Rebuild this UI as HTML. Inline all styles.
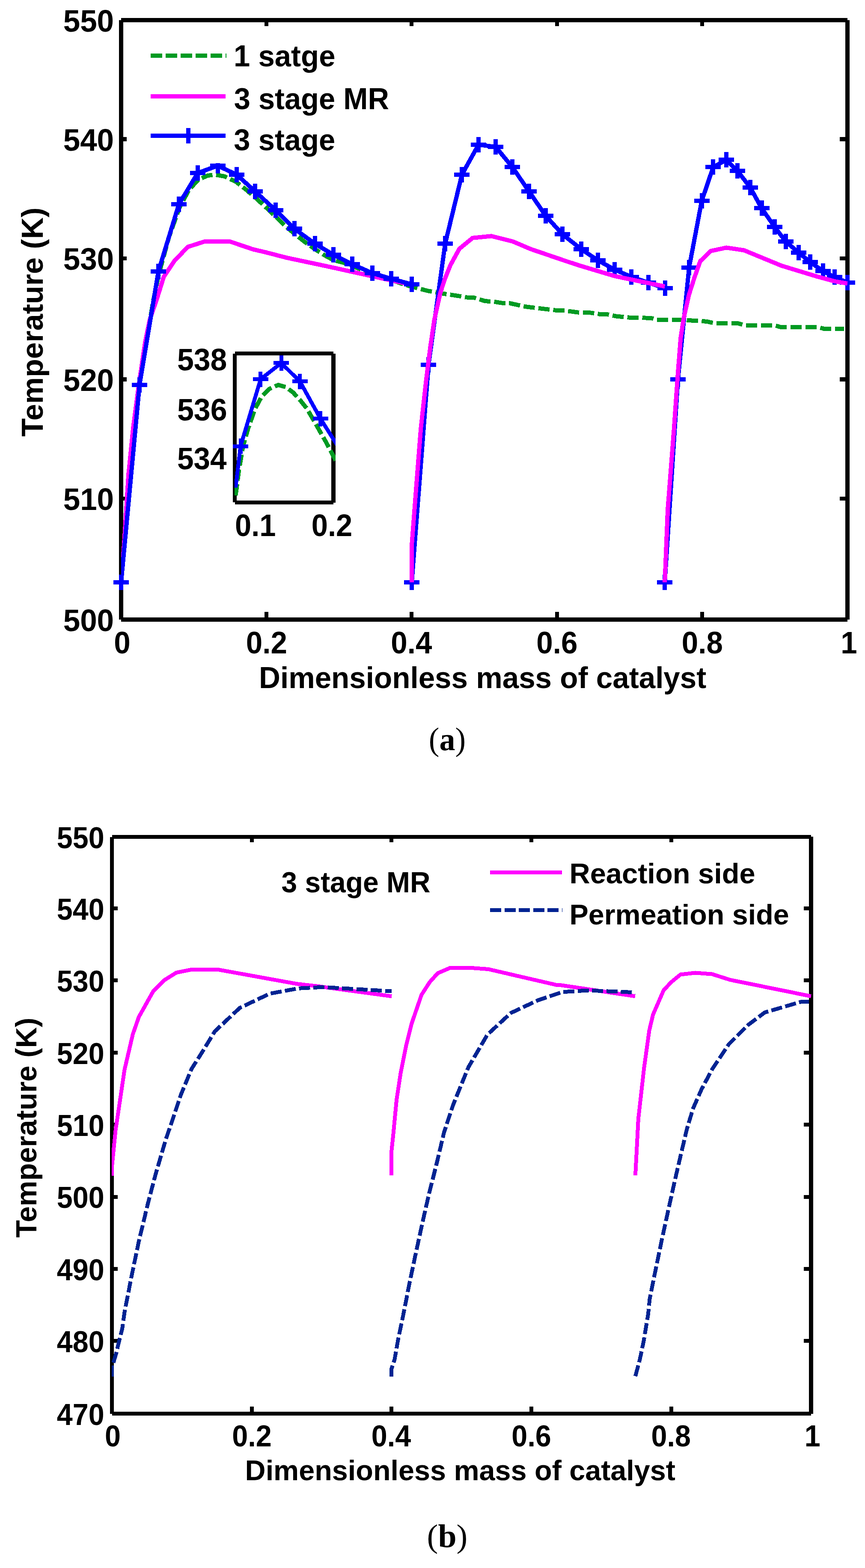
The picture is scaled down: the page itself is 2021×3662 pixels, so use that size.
<!DOCTYPE html>
<html lang="en">
<head>
<meta charset="utf-8">
<title>Temperature profiles along the dimensionless mass of catalyst</title>
<style>
html,body{margin:0;padding:0;background:#fff;}
body{width:2021px;height:3662px;}
svg{display:block;}
text{fill:#000;}
.t{font-family:'Liberation Sans', Arial, Helvetica, sans-serif;font-weight:bold;}
.c{font-family:'Liberation Serif', 'DejaVu Serif', serif;}
</style>
</head>
<body>
<svg width="2021" height="3662" viewBox="0 0 2021 3662">
<rect width="2021" height="3662" fill="#fff"/>
<g shape-rendering="crispEdges" stroke-linejoin="miter" stroke-linecap="butt">
<path d="M283 47H1980M283 1447H1980M283 47V1447M1980 47V1447" fill="none" stroke="#000" stroke-width="10"/>
<rect x="288" y="320" width="8" height="10" fill="#000"/>
<rect x="1962" y="320" width="13" height="10" fill="#000"/>
<rect x="288" y="599" width="8" height="9" fill="#000"/>
<rect x="1962" y="599" width="13" height="9" fill="#000"/>
<rect x="288" y="881" width="8" height="10" fill="#000"/>
<rect x="1962" y="881" width="13" height="10" fill="#000"/>
<rect x="288" y="1160" width="8" height="9" fill="#000"/>
<rect x="1962" y="1160" width="13" height="9" fill="#000"/>
<rect x="618" y="1429" width="9" height="13" fill="#000"/>
<rect x="618" y="52" width="9" height="9" fill="#000"/>
<rect x="957" y="1429" width="9" height="13" fill="#000"/>
<rect x="957" y="52" width="9" height="9" fill="#000"/>
<rect x="1297" y="1429" width="9" height="13" fill="#000"/>
<rect x="1297" y="52" width="9" height="9" fill="#000"/>
<rect x="1636" y="1429" width="9" height="13" fill="#000"/>
<rect x="1636" y="52" width="9" height="9" fill="#000"/>
<clipPath id="ca"><rect x="283" y="47" width="1697.5" height="1400"/></clipPath>
<g clip-path="url(#ca)"><polyline points="283.0,1360.0 326.0,899.0 347.5,764.0 358.5,700.0 371.0,641.0 395.0,553.0 419.0,486.0 441.0,444.0 463.0,420.0 485.0,410.0 503.0,408.0 525.0,412.0 552.0,425.0 575.0,443.0 597.0,462.0 620.0,483.0 644.0,506.0 666.0,527.0 688.0,546.0 712.0,565.0 736.0,582.0 758.0,596.0 780.0,608.0 801.0,613.0 823.0,621.0 847.0,631.0 871.0,640.5 893.0,647.5 915.0,654.0 940.0,663.0 962.0,669.5 1000.0,679.4 1035.0,685.7 1070.0,691.0 1091.0,694.5 1105.0,694.5 1133.6,703.3 1150.0,704.0 1172.0,707.5 1190.0,708.0 1228.5,716.3 1267.0,720.9 1302.0,725.1 1320.0,725.5 1351.6,729.7 1380.0,730.5 1404.0,734.2 1420.0,734.5 1439.5,738.5 1474.7,742.0 1521.0,742.7 1533.4,746.5 1600.0,747.5 1651.0,750.8 1672.0,755.3 1725.0,755.3 1739.0,759.5 1809.0,759.5 1823.5,763.8 1911.0,763.8 1927.0,768.3 1972.0,768.3" fill="none" stroke="#009A22" stroke-width="10" stroke-dasharray="26.4 8.48"/><polyline points="283.0,1360.0 290.0,1270.0 300.0,1110.0 311.0,1000.0 324.2,900.0 339.0,800.0 350.0,746.0 366.0,700.0 382.5,647.0 407.8,609.0 438.8,576.6 478.2,564.0 537.2,564.0 590.7,582.2 620.0,589.0 670.0,602.0 760.0,621.0 845.0,639.7 915.0,655.0 962.0,665.0" fill="none" stroke="#FF00FF" stroke-width="10"/></g>
<g clip-path="url(#ca)"><polyline points="283.0,1360.0 326.0,899.0 370.0,634.0 418.0,477.0 462.0,404.0 509.0,387.0 553.0,408.0 596.0,447.0 644.0,491.0 687.5,534.0 735.6,569.0 779.0,595.0 822.5,617.0 870.4,638.0 914.0,651.0 962.0,664.0" fill="none" stroke="#0000FF" stroke-width="10"/></g>
<path d="M265.0 1360.0h36M283.0 1342.0v36M308.0 899.0h36M326.0 881.0v36M352.0 634.0h36M370.0 616.0v36M400.0 477.0h36M418.0 459.0v36M444.0 404.0h36M462.0 386.0v36M491.0 387.0h36M509.0 369.0v36M535.0 408.0h36M553.0 390.0v36M578.0 447.0h36M596.0 429.0v36M626.0 491.0h36M644.0 473.0v36M669.5 534.0h36M687.5 516.0v36M717.6 569.0h36M735.6 551.0v36M761.0 595.0h36M779.0 577.0v36M804.5 617.0h36M822.5 599.0v36M852.4 638.0h36M870.4 620.0v36M896.0 651.0h36M914.0 633.0v36M944.0 664.0h36M962.0 646.0v36" fill="none" stroke="#0000FF" stroke-width="10"/>
<g clip-path="url(#ca)"><polyline points="962.0,1360.0 1001.3,851.5 1040.1,569.0 1079.2,408.0 1118.0,338.0 1158.0,343.0 1197.0,390.0 1236.0,447.0 1275.0,504.0 1314.0,547.0 1358.0,582.0 1397.0,608.0 1436.0,629.6 1475.2,646.7 1514.5,660.0 1553.5,673.0" fill="none" stroke="#0000FF" stroke-width="10"/></g>
<path d="M944.0 1360.0h36M962.0 1342.0v36M983.3 851.5h36M1001.3 833.5v36M1022.1 569.0h36M1040.1 551.0v36M1061.2 408.0h36M1079.2 390.0v36M1100.0 338.0h36M1118.0 320.0v36M1140.0 343.0h36M1158.0 325.0v36M1179.0 390.0h36M1197.0 372.0v36M1218.0 447.0h36M1236.0 429.0v36M1257.0 504.0h36M1275.0 486.0v36M1296.0 547.0h36M1314.0 529.0v36M1340.0 582.0h36M1358.0 564.0v36M1379.0 608.0h36M1397.0 590.0v36M1418.0 629.6h36M1436.0 611.6v36M1457.2 646.7h36M1475.2 628.7v36M1496.5 660.0h36M1514.5 642.0v36M1535.5 673.0h36M1553.5 655.0v36" fill="none" stroke="#0000FF" stroke-width="10"/>
<g clip-path="url(#ca)"><polyline points="1553.2,1360.0 1584.0,886.0 1610.0,625.0 1639.5,469.4 1666.3,390.3 1697.0,373.4 1723.0,399.0 1753.0,438.0 1779.5,486.3 1810.0,530.0 1836.0,564.4 1866.3,590.0 1892.7,612.0 1923.0,633.0 1949.7,647.0 1980.0,660.0" fill="none" stroke="#0000FF" stroke-width="10"/></g>
<path d="M1535.2 1360.0h36M1553.2 1342.0v36M1566.0 886.0h36M1584.0 868.0v36M1592.0 625.0h36M1610.0 607.0v36M1621.5 469.4h36M1639.5 451.4v36M1648.3 390.3h36M1666.3 372.3v36M1679.0 373.4h36M1697.0 355.4v36M1705.0 399.0h36M1723.0 381.0v36M1735.0 438.0h36M1753.0 420.0v36M1761.5 486.3h36M1779.5 468.3v36M1792.0 530.0h36M1810.0 512.0v36M1818.0 564.4h36M1836.0 546.4v36M1848.3 590.0h36M1866.3 572.0v36M1874.7 612.0h36M1892.7 594.0v36M1905.0 633.0h36M1923.0 615.0v36M1931.7 647.0h36M1949.7 629.0v36M1962.0 660.0h36M1980.0 642.0v36" fill="none" stroke="#0000FF" stroke-width="10"/>
<g clip-path="url(#ca)"><polyline points="962.0,1360.0 962.0,1274.0 971.7,1147.7 983.3,1000.0 994.8,895.4 1005.3,811.0 1014.6,747.7 1028.7,684.4 1039.0,652.7 1052.5,619.0 1073.3,581.0 1104.2,555.7 1147.8,551.4 1198.5,564.1 1240.0,581.7 1320.0,609.0 1352.5,619.7 1436.9,645.0 1553.4,669.0" fill="none" stroke="#FF00FF" stroke-width="10"/><polyline points="1553.2,1360.0 1560.1,1190.0 1574.8,1000.0 1582.8,885.9 1590.2,789.9 1597.3,743.5 1609.7,688.6 1622.4,648.5 1636.0,610.0 1660.7,586.2 1697.0,578.4 1738.0,584.4 1826.0,620.6 1907.0,645.2 1950.0,657.0 1980.0,662.0" fill="none" stroke="#FF00FF" stroke-width="10"/></g>
<rect x="330" y="70" width="600" height="311" fill="#fff"/>
<polyline points="352.0,130.0 529.0,130.0" fill="none" stroke="#009A22" stroke-width="10" stroke-dasharray="26.5 8.5"/>
<polyline points="352.0,225.0 527.0,225.0" fill="none" stroke="#FF00FF" stroke-width="10"/>
<polyline points="352.0,317.0 527.0,317.0" fill="none" stroke="#0000FF" stroke-width="10"/>
<path d="M421.5 317.0h36M439.5 299.0v36" fill="none" stroke="#0000FF" stroke-width="10"/>
<rect x="544" y="821" width="240" height="357" fill="#fff"/>
<path d="M548.5 825.5H779M548.5 1173H779M548.5 825.5V1173" fill="none" stroke="#000" stroke-width="9"/>
<rect x="774" y="826" width="10" height="348" fill="#000"/>
<clipPath id="ci"><rect x="548" y="826" width="236" height="347"/></clipPath>
<g clip-path="url(#ci)"><polyline points="550.3,1157.0 551.5,1150.0 558.0,1100.0 567.7,1043.0 580.0,1000.0 596.0,954.6 612.0,925.0 630.0,908.0 650.0,899.0 668.0,904.0 684.8,916.6 700.0,933.0 716.5,953.5 731.0,978.4 745.0,1003.0 762.0,1033.0 779.7,1066.6 790.0,1086.0" fill="none" stroke="#009A22" stroke-width="10" stroke-dasharray="26.5 8.5"/><polyline points="550.5,1139.0 562.0,1042.2 608.9,885.6 657.0,847.9 700.6,890.6 748.5,977.5 795.0,1051.0" fill="none" stroke="#0000FF" stroke-width="9"/></g>
<path d="M544.0 1042.2h36M562.0 1024.2v36M590.9 885.6h36M608.9 867.6v36M639.0 847.9h36M657.0 829.9v36M682.6 890.6h36M700.6 872.6v36M730.5 977.5h36M748.5 959.5v36" fill="none" stroke="#0000FF" stroke-width="9"/>
</g>
<text class="t" font-size="72.3" transform="translate(147.67 74.00) scale(0.9818 1)">550</text>
<text class="t" font-size="72.3" transform="translate(147.67 351.60) scale(0.9818 1)">540</text>
<text class="t" font-size="72.3" transform="translate(147.67 629.60) scale(0.9818 1)">530</text>
<text class="t" font-size="72.3" transform="translate(147.67 913.00) scale(0.9818 1)">520</text>
<text class="t" font-size="72.3" transform="translate(147.67 1190.90) scale(0.9818 1)">510</text>
<text class="t" font-size="72.3" transform="translate(147.67 1474.20) scale(0.9818 1)">500</text>
<text class="t" font-size="72.3" transform="translate(266.25 1525.70) scale(0.9570 1)">0</text>
<text class="t" font-size="72.3" transform="translate(574.86 1525.70) scale(0.9570 1)">0.2</text>
<text class="t" font-size="72.3" transform="translate(913.30 1525.70) scale(0.9570 1)">0.4</text>
<text class="t" font-size="72.3" transform="translate(1253.24 1525.70) scale(0.9570 1)">0.6</text>
<text class="t" font-size="72.3" transform="translate(1592.77 1525.70) scale(0.9570 1)">0.8</text>
<text class="t" font-size="72.3" transform="translate(1964.33 1525.70) scale(0.9570 1)">1</text>
<text class="t" font-size="69.8" transform="translate(605.03 1606.70) scale(0.9906 1)">Dimensionless mass of catalyst</text>
<text class="t" font-size="70.3" transform="translate(100.00 1019.70) rotate(-90) scale(0.9954 1)">Temperature (K)</text>
<text class="t" font-size="70.5" transform="translate(545.99 155.30) scale(0.9777 1)">1 satge</text>
<text class="t" font-size="70.8" transform="translate(546.76 255.30) scale(0.9691 1)">3 stage MR</text>
<text class="t" font-size="70.5" transform="translate(546.35 351.00) scale(0.9753 1)">3 stage</text>
<text class="t" font-size="72.3" transform="translate(413.91 865.00) scale(0.9654 1)">538</text>
<text class="t" font-size="72.3" transform="translate(413.90 982.00) scale(0.9684 1)">536</text>
<text class="t" font-size="72.3" transform="translate(413.92 1095.80) scale(0.9582 1)">534</text>
<text class="t" font-size="72.3" transform="translate(549.05 1251.60) scale(0.9502 1)">0.1</text>
<text class="t" font-size="72.3" transform="translate(727.75 1251.60) scale(0.9502 1)">0.2</text>
<text class="c" font-size="76.5" transform="translate(1045 1752.1) scale(0.968 1)" text-anchor="middle">(<tspan font-weight="bold">a</tspan>)</text>
<g shape-rendering="crispEdges" stroke-linejoin="miter" stroke-linecap="butt">
<path d="M261.5 1954.5H1895M261.5 3301.5H1895M261.5 1954.5V3301.5" fill="none" stroke="#000" stroke-width="9"/>
<rect x="1890" y="1954" width="10" height="1348" fill="#000"/>
<rect x="266" y="2117" width="8.5" height="9" fill="#000"/>
<rect x="1878" y="2117" width="12" height="9" fill="#000"/>
<rect x="266" y="2285" width="8.5" height="9" fill="#000"/>
<rect x="1878" y="2285" width="12" height="9" fill="#000"/>
<rect x="266" y="2454" width="8.5" height="9" fill="#000"/>
<rect x="1878" y="2454" width="12" height="9" fill="#000"/>
<rect x="266" y="2622" width="8.5" height="9" fill="#000"/>
<rect x="1878" y="2622" width="12" height="9" fill="#000"/>
<rect x="266" y="2791" width="8.5" height="9" fill="#000"/>
<rect x="1878" y="2791" width="12" height="9" fill="#000"/>
<rect x="266" y="2959" width="8.5" height="9" fill="#000"/>
<rect x="1878" y="2959" width="12" height="9" fill="#000"/>
<rect x="266" y="3127" width="8.5" height="9" fill="#000"/>
<rect x="1878" y="3127" width="12" height="9" fill="#000"/>
<rect x="584" y="3285" width="9" height="12" fill="#000"/>
<rect x="584" y="1959" width="9" height="8" fill="#000"/>
<rect x="910" y="3285" width="9" height="12" fill="#000"/>
<rect x="910" y="1959" width="9" height="8" fill="#000"/>
<rect x="1237" y="3285" width="9" height="12" fill="#000"/>
<rect x="1237" y="1959" width="9" height="8" fill="#000"/>
<rect x="1564" y="3285" width="9" height="12" fill="#000"/>
<rect x="1564" y="1959" width="9" height="8" fill="#000"/>
<clipPath id="cb"><rect x="261.0" y="1954.5" width="1634.5" height="1347.0"/></clipPath>
<g clip-path="url(#cb)">
<polyline points="261.5,2746.0 262.0,2720.0 270.0,2640.0 291.0,2498.2 310.3,2415.6 324.4,2375.1 357.8,2315.4 384.2,2289.0 412.3,2271.4 447.5,2264.4 509.0,2264.4 693.6,2297.8 740.0,2303.0 915.2,2326.8" fill="none" stroke="#FF00FF" stroke-width="9"/>
<polyline points="914.3,2745.4 914.3,2692.7 919.4,2644.1 926.6,2568.2 936.3,2504.9 949.0,2441.6 961.6,2391.0 984.8,2323.5 1003.8,2293.9 1022.8,2272.8 1052.3,2260.2 1096.6,2260.2 1141.0,2263.5 1300.0,2300.3 1309.0,2300.6 1484.0,2326.7" fill="none" stroke="#FF00FF" stroke-width="9"/>
<polyline points="1484.5,2745.0 1491.4,2613.2 1504.7,2495.0 1517.0,2406.4 1525.8,2369.5 1550.4,2313.0 1567.7,2294.2 1589.8,2276.0 1624.3,2272.0 1663.7,2275.0 1705.5,2288.3 1895.0,2326.7" fill="none" stroke="#FF00FF" stroke-width="9"/>
<polyline points="261.5,3215.0 261.5,3188.0 264.5,3184.0 272.6,3157.0 275.2,3145.0 285.7,3103.0 291.0,3064.4 306.8,2983.5 324.4,2899.0 345.5,2811.0 363.0,2744.4 387.7,2660.0 401.7,2619.5 422.8,2556.2 447.5,2496.5 472.0,2457.8 502.0,2408.6 560.0,2354.0 630.3,2320.6 697.0,2308.3 754.9,2305.3 915.2,2315.0" fill="none" stroke="#002392" stroke-width="9" stroke-dasharray="26 7.6"/>
<polyline points="914.3,3214.8 914.3,3198.0 921.9,3175.4 930.3,3127.6 941.6,3074.1 957.0,2995.4 972.5,2922.2 986.6,2857.5 1000.6,2795.6 1021.7,2711.3 1037.6,2644.1 1058.6,2580.8 1075.5,2538.7 1094.5,2492.2 1138.8,2416.3 1193.7,2365.7 1257.0,2336.0 1314.0,2316.8 1373.0,2313.0 1481.0,2317.6 1484.0,2318.0" fill="none" stroke="#002392" stroke-width="9" stroke-dasharray="26 7.6"/>
<polyline points="1484.5,3214.0 1495.0,3174.7 1503.8,3132.5 1514.4,3069.2 1517.9,3034.0 1528.5,2981.3 1546.0,2896.9 1563.6,2816.0 1577.7,2752.7 1590.0,2700.0 1604.6,2637.8 1619.4,2588.6 1639.0,2544.3 1663.7,2497.5 1703.0,2438.4 1747.3,2394.1 1786.7,2364.6 1870.4,2340.0 1890.0,2339.0" fill="none" stroke="#002392" stroke-width="9" stroke-dasharray="26 7.6"/>
</g>
<polyline points="1145.0,2037.5 1313.0,2037.5" fill="none" stroke="#FF00FF" stroke-width="9"/>
<polyline points="1145.0,2125.5 1314.0,2125.5" fill="none" stroke="#002392" stroke-width="9" stroke-dasharray="26 7.6"/>
</g>
<text class="t" font-size="69.7" transform="translate(132.81 1980.90) scale(0.9529 1)">550</text>
<text class="t" font-size="69.7" transform="translate(132.81 2147.88) scale(0.9529 1)">540</text>
<text class="t" font-size="69.7" transform="translate(132.81 2316.25) scale(0.9529 1)">530</text>
<text class="t" font-size="69.7" transform="translate(132.81 2484.62) scale(0.9529 1)">520</text>
<text class="t" font-size="69.7" transform="translate(132.81 2653.00) scale(0.9529 1)">510</text>
<text class="t" font-size="69.7" transform="translate(132.81 2821.38) scale(0.9529 1)">500</text>
<text class="t" font-size="69.7" transform="translate(132.81 2989.75) scale(0.9529 1)">490</text>
<text class="t" font-size="69.7" transform="translate(132.81 3158.12) scale(0.9529 1)">480</text>
<text class="t" font-size="69.7" transform="translate(132.81 3327.90) scale(0.9529 1)">470</text>
<text class="t" font-size="69.7" transform="translate(245.08 3377.70) scale(0.9550 1)">0</text>
<text class="t" font-size="69.7" transform="translate(542.34 3377.70) scale(0.9550 1)">0.2</text>
<text class="t" font-size="69.7" transform="translate(867.77 3377.70) scale(0.9550 1)">0.4</text>
<text class="t" font-size="69.7" transform="translate(1195.37 3377.70) scale(0.9550 1)">0.6</text>
<text class="t" font-size="69.7" transform="translate(1521.41 3377.70) scale(0.9550 1)">0.8</text>
<text class="t" font-size="69.7" transform="translate(1879.70 3377.70) scale(0.9550 1)">1</text>
<text class="t" font-size="67.2" transform="translate(572.61 3457.10) scale(0.9898 1)">Dimensionless mass of catalyst</text>
<text class="t" font-size="67.7" transform="translate(85.00 2890.57) rotate(-90) scale(0.9927 1)">Temperature (K)</text>
<text class="t" font-size="67.3" transform="translate(1330.49 2062.50) scale(0.9925 1)">Reaction side</text>
<text class="t" font-size="67.3" transform="translate(1330.51 2159.20) scale(0.9874 1)">Permeation side</text>
<text class="t" font-size="68.2" transform="translate(657.52 2084.00) scale(0.9666 1)">3 stage MR</text>
<text class="c" font-size="76.5" transform="translate(1045 3612.6) scale(1.014 1)" text-anchor="middle">(<tspan font-weight="bold">b</tspan>)</text>
</svg>
</body>
</html>
